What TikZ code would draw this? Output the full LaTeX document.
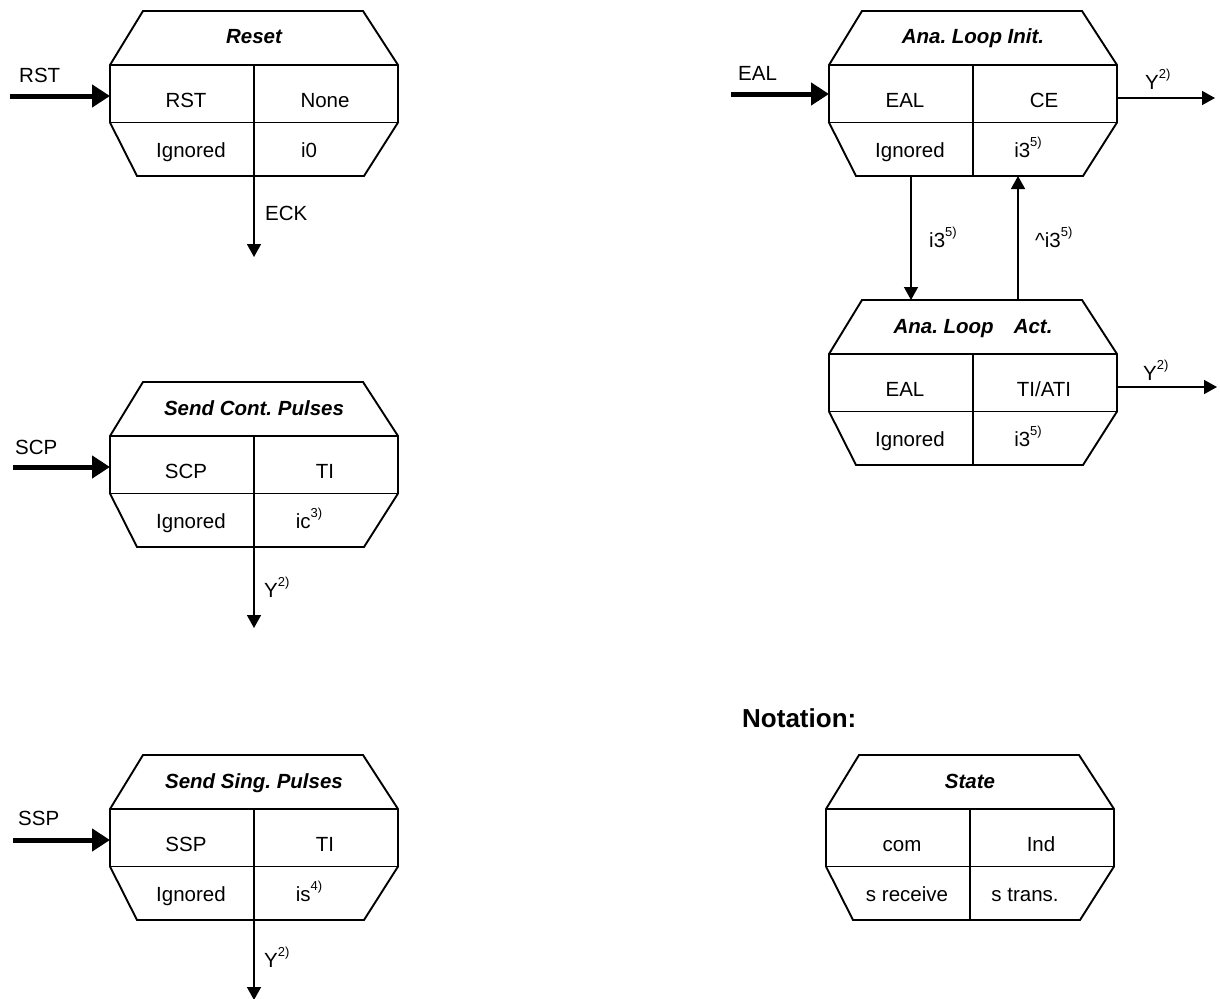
\documentclass[tikz,border=0pt]{standalone}
\usepackage{fontspec}
\setmainfont{Liberation Sans}
\usetikzlibrary{arrows.meta,calc}
\frenchspacing

\tikzset{
  boxline/.style={line width=1.9pt, line join=miter},
  inarrow/.style={line width=5pt, -{Triangle[length=18pt,width=22pt]}},
  outarrow/.style={line width=1.5pt, -{Triangle[length=13pt,width=14pt]}},
  celltext/.style={anchor=base, inner sep=0pt, font=\fontsize{20.5}{24}\selectfont},
  titletext/.style={anchor=base, inner sep=0pt, font=\fontsize{20.5}{24}\selectfont\bfseries\itshape},
  sigtext/.style={anchor=base west, inner sep=0pt, font=\fontsize{20.5}{24}\selectfont},
}
\newcommand{\supnote}[1]{\raisebox{0.5em}{\fontsize{13}{13}\selectfont #1}}
% state box: name, top centre, title, com, ind, s receive, s trans.
\newcommand{\statebox}[7]{%
  \begin{scope}[shift={(#2)}]
    \draw[boxline] (-111,0) -- (109,0) -- (144,54) -- (144,111.5) -- (110,165) -- (-117,165) -- (-144,111.5) -- (-144,54) -- cycle;
    \draw[boxline] (-144,54) -- (144,54) (-144,111.5) -- (144,111.5) (0,54) -- (0,165);
    \node[titletext] (#1-title) at (0,33) {#3};
    \node[celltext] (#1-com) at (-68,96) {#4};
    \node[celltext] (#1-ind) at (71,96) {#5};
    \node[celltext] (#1-rec) at (-63,146) {#6};
    \node[celltext] (#1-trans) at (55,146) {#7};
    \coordinate (#1-w) at (-144,85);
    \coordinate (#1-e) at (144,87);
    \coordinate (#1-s) at (0,165);
    \coordinate (#1-sl) at (-62,165);
    \coordinate (#1-sr) at (45,165);
    \coordinate (#1-nl) at (-62,0);
    \coordinate (#1-nr) at (45,0);
  \end{scope}}

\begin{document}
\begin{tikzpicture}[x=1pt, y=-1pt]
  \clip (0,0) rectangle (1220,998);

  % left column
  \statebox{reset}{254,11}{Reset}{RST}{None}{Ignored}{i0}
  \statebox{cont}{254,382}{Send Cont. Pulses}{SCP}{TI}{Ignored}{ic\supnote{3)}}
  \statebox{sing}{254,755}{Send Sing. Pulses}{SSP}{TI}{Ignored}{is\supnote{4)}}

  % right column
  \statebox{init}{973,11}{Ana. Loop Init.}{EAL}{CE}{Ignored}{i3\supnote{5)}}
  \statebox{act}{973,300}{Ana. Loop\hspace{20pt}Act.}{EAL}{TI/ATI}{Ignored}{i3\supnote{5)}}

  % notation
  \node[anchor=base west, inner sep=0pt, font=\fontsize{26}{30}\selectfont\bfseries] (notation) at (742,727) {Notation:};
  \statebox{state}{970,755}{State}{com}{Ind}{s receive}{s trans.}

  % inputs
  \coordinate (rst) at (10,96);
  \coordinate (scp) at (13,467);
  \coordinate (ssp) at (13,840);
  \coordinate (eal) at (731,94);
  \draw[inarrow] (rst) -- (reset-w);
  \draw[inarrow] (scp) -- (cont-w);
  \draw[inarrow] (ssp) -- (sing-w);
  \draw[inarrow] (eal) -- (init-w |- eal);
  \node[sigtext] (rst-lbl) at (19,82) {RST};
  \node[sigtext] (scp-lbl) at (15,454) {SCP};
  \node[sigtext] (ssp-lbl) at (18,825) {SSP};
  \node[sigtext] (eal-lbl) at (738,81) {EAL};

  % outputs
  \coordinate (eck) at (254,257);
  \coordinate (cont-y) at (254,628);
  \coordinate (sing-y) at (254,1000);
  \coordinate (init-y) at (1215,98);
  \coordinate (act-y) at (1217,387);
  \draw[outarrow] (reset-s) -- (eck);
  \draw[outarrow] (cont-s) -- (cont-y);
  \draw[outarrow] (sing-s) -- (sing-y);
  \draw[outarrow] (init-e) -- (init-y);
  \draw[outarrow] (act-e) -- (act-y);
  \node[sigtext] (eck-lbl) at (265,220) {ECK};
  \node[sigtext] (cont-ylbl) at (264,597) {Y\supnote{2)}};
  \node[sigtext] (sing-ylbl) at (264,967) {Y\supnote{2)}};
  \node[sigtext] (init-ylbl) at (1145,89) {Y\supnote{2)}};
  \node[sigtext] (act-ylbl) at (1143,380) {Y\supnote{2)}};

  % loop between init and act
  \draw[outarrow] (init-sl) -- (act-nl);
  \draw[outarrow] (act-nr) -- (init-sr);
  \node[sigtext] (down-lbl) at (929,247) {i3\supnote{5)}};
  \node[sigtext] (up-lbl) at (1035,247) {\textasciicircum i3\supnote{5)}};
\end{tikzpicture}
\end{document}
